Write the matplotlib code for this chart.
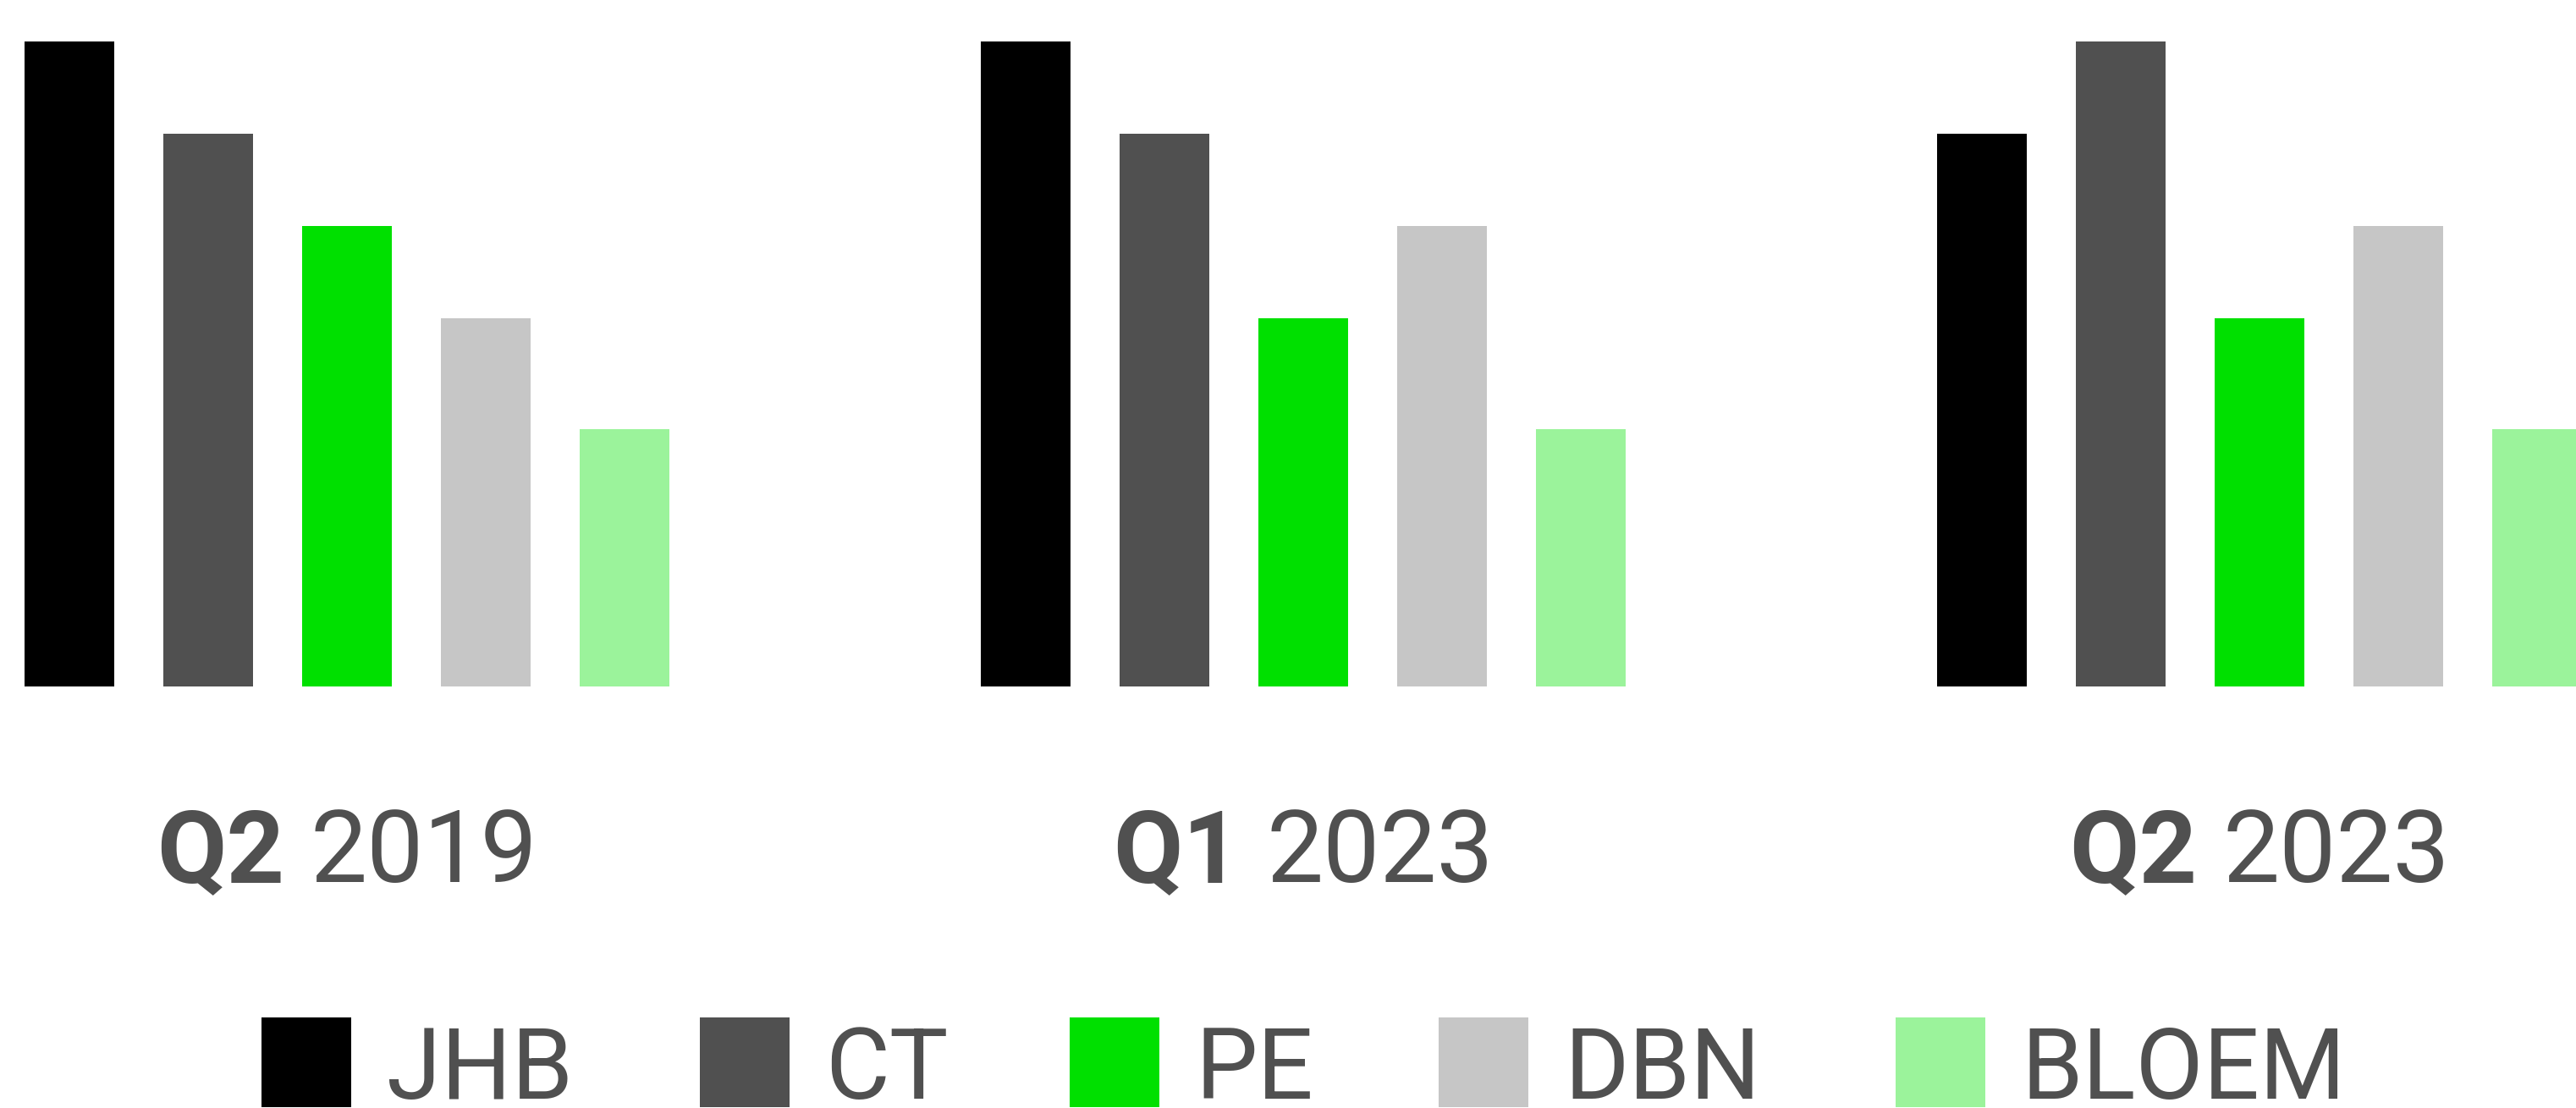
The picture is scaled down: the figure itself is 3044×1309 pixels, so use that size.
import numpy as np
import matplotlib
matplotlib.use("Agg")
import matplotlib.pyplot as plt
from matplotlib.patches import Rectangle

# data
quarters = ["Q2", "Q1", "Q2"]
years = ["2019", "2023", "2023"]
cities = ["JHB", "CT", "PE", "DBN", "BLOEM"]
jhb = [7.0, 7.0, 6.0]
ct = [6.0, 6.0, 7.0]
pe = [5.0, 4.0, 4.0]
dbn = [4.0, 5.0, 5.0]
bloem = [2.8, 2.8, 2.8]
series = [jhb, ct, pe, dbn, bloem]
colors = ["#000000", "#505050", "#00E000", "#C6C6C6", "#9BF39B"]
text_col = "#505050"

W, H = 3044, 1309
dpi = 100
fig = plt.figure(figsize=(W / dpi, H / dpi), dpi=dpi)

# axes: baseline and top of tallest bar
y_base = 811.3
y_top = 49.3
ax = fig.add_axes([0, (H - y_base) / H, 1, (y_base - y_top) / H])
ax.set_axis_off()

grp = 1130.0          # px between groups
step = 164.0 / grp    # bar step in data units
bw = 106.0 / grp      # bar width
x0 = 410.0            # px of the first group centre
ax.set_xlim(-x0 / grp, (W - x0) / grp)
ax.set_ylim(0, max(max(s) for s in series))

xg = np.arange(len(quarters))
for k, (vals, c) in enumerate(zip(series, colors)):
    ax.bar(xg + (k - 2) * step, vals, width=bw, color=c, linewidth=0)

# group labels: bold quarter + regular year, centred under each group
lab_font = ["Roboto", "DejaVu Sans"]
fs_lab = 86
base_lab = (H - 1041.7) / H
renderer = fig.canvas.get_renderer()
gap = 30.0
for i in range(len(quarters)):
    cx = ax.transData.transform((xg[i], 0))[0]
    t1 = fig.text(0, base_lab, quarters[i], fontsize=fs_lab, fontweight="bold",
                  family=lab_font, color=text_col, va="baseline", ha="left")
    t2 = fig.text(0, base_lab, years[i], fontsize=fs_lab, family=lab_font,
                  color=text_col, va="baseline", ha="left")
    w1 = t1.get_window_extent(renderer).width
    w2 = t2.get_window_extent(renderer).width
    start = cx - (w1 + gap + w2) / 2
    t1.set_x(start / W)
    t2.set_x((start + w1 + gap) / W)

# legend
leg_font = ["Roboto", "DejaVu Sans"]
leg_x = [309, 827, 1264, 1700, 2240]
sq = 106
for name, c, lx in zip(cities, colors, leg_x):
    fig.patches.append(Rectangle((lx / W, (H - 1308.3) / H), sq / W, sq / H,
                                 transform=fig.transFigure, color=c, lw=0))
    fig.text((lx + 148) / W, (H - 1298) / H, name, fontsize=84, family=leg_font,
             color=text_col, va="baseline", ha="left")

fig.savefig("out.png", dpi=dpi, facecolor="white")
